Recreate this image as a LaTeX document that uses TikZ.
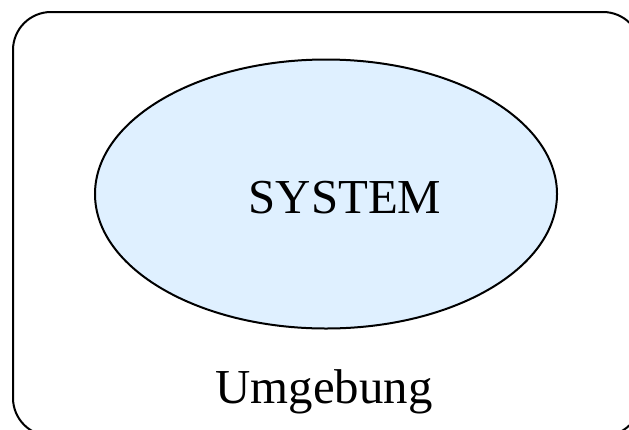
\documentclass[tikz,border=0pt]{standalone}
\usepackage{fontspec}
\setmainfont{Liberation Serif}
\usetikzlibrary{shapes.geometric}
\definecolor{sysblue}{RGB}{223,240,255}

\begin{document}
\begin{tikzpicture}
      [x=1bp,y=-1bp,%%%%%%%%%%%%%%%%%%%%%%%%%%%%%%
      env/.style={rectangle,draw=black,line width=2bp,rounded corners=38bp},
      sys/.style={ellipse,draw=black,line width=2bp,fill=sysblue,inner sep=0pt,
        minimum width=462bp,minimum height=269bp},
      big/.style={anchor=base,inner sep=0pt,font=\fontsize{49}{55}\selectfont},
      ]%%%%%%%%%%%%%%%%%%%%%%%%%%%%%%
      \useasboundingbox (0,0) rectangle (629,429);

      % Umgebung (frame runs past the page at right and bottom)
      \draw[env] (13,12) rectangle (641,436);

      % System
      \node[sys] (system) at (326,194) {};
      \node[big] (systext) at (345,213) {SYSTEM};

      \node[big] (umgebung) at (324,403) {Umgebung};
    \end{tikzpicture}
\end{document}
